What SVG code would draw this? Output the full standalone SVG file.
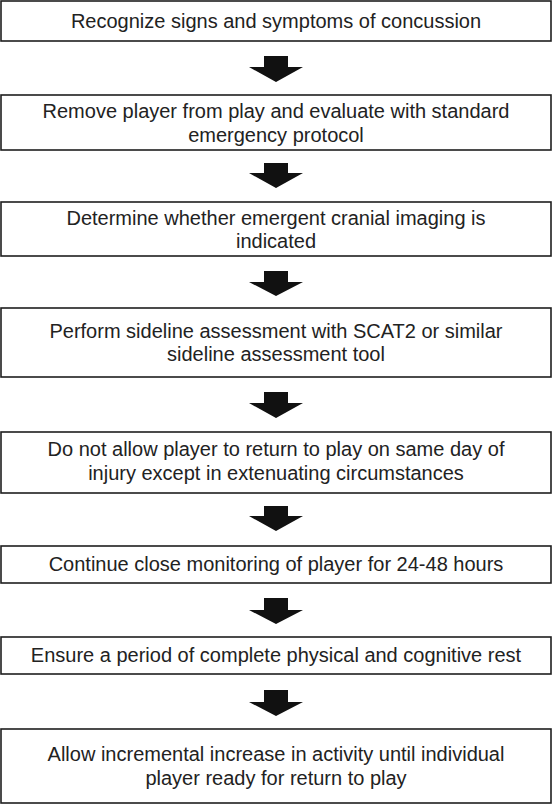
<svg xmlns="http://www.w3.org/2000/svg" width="552" height="805" viewBox="0 0 552 805">
<style>
.box{fill:#fff;stroke:#1e1e1e;stroke-width:1.6}
.t{font-family:"Liberation Sans",Arial,sans-serif;font-size:20px;fill:#222;text-anchor:middle}
.arr{fill:#111}
</style>
<rect width="552" height="805" fill="#fff"/>
<g id="node1"><rect class="box" x="1" y="1" width="550" height="40"/><text class="t" x="276" y="27.5">Recognize signs and symptoms of concussion</text></g>
<g id="node2"><rect class="box" x="1" y="95" width="550" height="55"/><text class="t" x="276" y="117.5">Remove player from play and evaluate with standard</text><text class="t" x="276" y="141.5">emergency protocol</text></g>
<g id="node3"><rect class="box" x="1" y="202" width="550" height="54"/><text class="t" x="276" y="224.5">Determine whether emergent cranial imaging is</text><text class="t" x="276" y="248">indicated</text></g>
<g id="node4"><rect class="box" x="1" y="308" width="550" height="69"/><text class="t" x="276" y="337.5">Perform sideline assessment with SCAT2 or similar</text><text class="t" x="276" y="361">sideline assessment tool</text></g>
<g id="node5"><rect class="box" x="1" y="432" width="550" height="61"/><text class="t" x="276" y="456">Do not allow player to return to play on same day of</text><text class="t" x="276" y="480">injury except in extenuating circumstances</text></g>
<g id="node6"><rect class="box" x="1" y="546" width="550" height="37"/><text class="t" x="276" y="571">Continue close monitoring of player for 24-48 hours</text></g>
<g id="node7"><rect class="box" x="1" y="637" width="550" height="37"/><text class="t" x="276" y="662">Ensure a period of complete physical and cognitive rest</text></g>
<g id="node8"><rect class="box" x="1" y="729" width="550" height="74"/><text class="t" x="276" y="761">Allow incremental increase in activity until individual</text><text class="t" x="276" y="785">player ready for return to play</text></g>
<g id="connectors">
<polygon class="arr" points="264,56 288,56 288,67 303,67 276,82 249,67 264,67"/>
<polygon class="arr" points="264,163 288,163 288,173 303,173 276,188 249,173 264,173"/>
<polygon class="arr" points="264,271 288,271 288,282 303,282 276,296 249,282 264,282"/>
<polygon class="arr" points="264,392 288,392 288,403 303,403 276,418 249,403 264,403"/>
<polygon class="arr" points="264,506 288,506 288,516 303,516 276,531 249,516 264,516"/>
<polygon class="arr" points="264,598 288,598 288,610 303,610 276,624 249,610 264,610"/>
<polygon class="arr" points="264,690 288,690 288,702 303,702 276,716 249,702 264,702"/>
</g>
</svg>
